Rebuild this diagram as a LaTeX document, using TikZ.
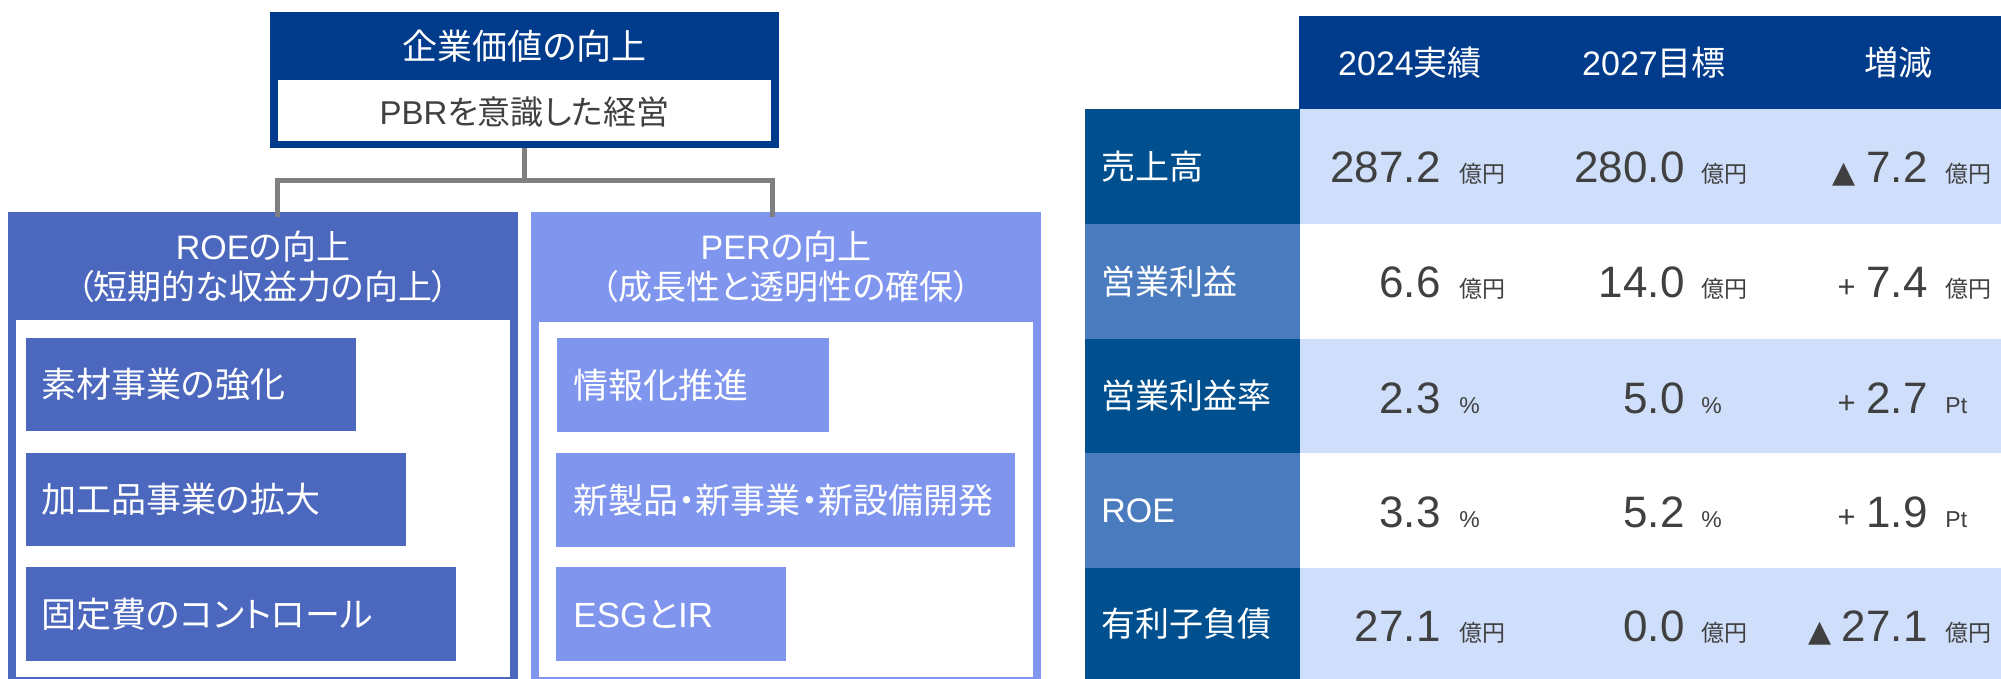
\documentclass[tikz,border=0pt]{standalone}
\usepackage{fontspec}
\setmainfont{Liberation Sans}
\newfontfamily\jp[RawFeature=+palt]{Noto Sans CJK JP}
\newfontfamily\dvs{DejaVu Sans}
\usetikzlibrary{fit}
\definecolor{navy}{HTML}{003B8C}
\definecolor{roeblue}{HTML}{4B67BE}
\definecolor{perblue}{HTML}{7F95EE}
\definecolor{rowdark}{HTML}{00508F}
\definecolor{rowlight}{HTML}{4A7BBE}
\definecolor{cellblue}{HTML}{CFDFFB}
\definecolor{txtgray}{HTML}{404040}
\definecolor{conngray}{HTML}{808080}
\begin{document}
\begin{tikzpicture}[x=0.5pt,y=-0.5pt,
  box/.style={inner sep=0pt, outer sep=0pt, draw=none},
  conn/.style={draw=conngray, line width=2.5pt},
  wt/.style={text=white, inner sep=0pt, font=\fontsize{17.5}{20}\selectfont},
  lt/.style={text=white, inner sep=0pt, font=\fontsize{17}{20}\selectfont},
  hdt/.style={text=white, inner sep=0pt, font=\fontsize{17}{20}\selectfont, align=center},
  gt/.style={text=txtgray, inner sep=0pt, font=\fontsize{16.5}{19}\selectfont},
  num/.style={text=txtgray, inner sep=0pt, font=\fontsize{22}{26}\selectfont},
  unit/.style={text=txtgray, inner sep=0pt, font=\fontsize{11.5}{14}\selectfont},
  sgn/.style={text=txtgray, inner sep=0pt, font=\fontsize{15.5}{18}\selectfont},
  tri/.style={text=txtgray, inner sep=0pt, font=\dvs\fontsize{15}{18}\selectfont}]
\useasboundingbox (0,0) rectangle (2001,679);

% ---------- top box ----------
\node[box, fill=navy, fit={(270,12)(779,148)}] (top) {};
\node[box, fill=white, fit={(278,80)(771,141)}] (topin) {};
\node[wt] (toptitle) at (524.5,46) {\jp 企業価値の向上};
\node[gt] (pbr) at (524.5,112) {PBR{\jp を意識した経営}};

% ---------- ROE box ----------
\node[box, fill=roeblue, fit={(8,212)(518,679)}] (roe) {};
\node[box, fill=white, fit={(16,320)(510,677)}] (roein) {};
\node[hdt] (roet) at (263,267) {ROE{\jp の向上}\\{\jp （短期的な収益力の向上）}};
\node[box, fill=roeblue, fit={(26,338)(356,431)}] (r1) {};
\node[box, fill=roeblue, fit={(26,453)(406,546)}] (r2) {};
\node[box, fill=roeblue, fit={(26,567)(456,661)}] (r3) {};
\node[wt, anchor=west] (r1t) at (41,384.5) {\jp 素材事業の強化};
\node[wt, anchor=west] (r2t) at (41,499.5) {\jp 加工品事業の拡大};
\node[wt, anchor=west] (r3t) at (41,614) {\jp 固定費のコントロール};

% ---------- PER box ----------
\node[box, fill=perblue, fit={(531,212)(1041,679)}] (per) {};
\node[box, fill=white, fit={(539,322)(1033,677)}] (perin) {};
\node[hdt] (pert) at (786,267) {PER{\jp の向上}\\{\jp （成長性と透明性の確保）}};
\node[box, fill=perblue, fit={(557,338)(829,432)}] (p1) {};
\node[box, fill=perblue, fit={(556,453)(1015,547)}] (p2) {};
\node[box, fill=perblue, fit={(556,567)(786,661)}] (p3) {};
\node[wt, anchor=west] (p1t) at (573,385) {\jp 情報化推進};
\node[wt, anchor=west] (p2t) at (573,500) {\jp 新製品・新事業・新設備開発};
\node[wt, anchor=west] (p3t) at (573,614) {ESG{\jp と}IR};

% ---------- connectors ----------
\coordinate (jl) at (277.5,180.5);
\coordinate (jr) at (772,180.5);
\draw[conn] (top.south) |- (jl) -- (jl |- roe.north) -- ++(0,5);
\draw[conn] (top.south) |- (jr) -- (jr |- per.north) -- ++(0,5);

% ---------- table ----------
\node[box, fill=navy, fit={(1299,16)(2001,109)}] (head) {};
\node[lt] (h1) at (1410,63) {2024{\jp 実績}};
\node[lt] (h2) at (1654,63) {2027{\jp 目標}};
\node[lt] (h3) at (1898,63) {\jp 増減};

\foreach \i/\ytop/\ybot/\lfill/\dfill in {1/109/224/rowdark/cellblue, 2/224/339/rowlight/white, 3/339/453/rowdark/cellblue, 4/453/568/rowlight/white, 5/568/679/rowdark/cellblue} {
  \node[box, fill=\lfill, fit={(1085,\ytop)(1300,\ybot)}] (lab\i) {};
  \node[box, fill=\dfill, fit={(1300,\ytop)(2001,\ybot)}] (row\i) {};
}

\node[lt, anchor=west] (l1) at (1101,167) {\jp 売上高};
\node[lt, anchor=west] (l2) at (1101,281.5) {\jp 営業利益};
\node[lt, anchor=west] (l3) at (1101,396) {\jp 営業利益率};
\node[lt, anchor=west] (l4) at (1101,510.5) {ROE};
\node[lt, anchor=west] (l5) at (1101,624) {\jp 有利子負債};

% row 1
\node[num, anchor=base east] (a1) at (1441,183) {287.2};
\node[unit, anchor=base west] (au1) at (1459,183) {\jp 億円};
\node[num, anchor=base east] (b1) at (1685,183) {280.0};
\node[unit, anchor=base west] (bu1) at (1701,183) {\jp 億円};
\node[num, anchor=base east] (c1) at (1928,183) {7.2};
\node[tri, anchor=base east] (cs1) at ([xshift=-5pt]c1.base west) {▲};
\node[unit, anchor=base west] (cu1) at (1945,183) {\jp 億円};
% row 2
\node[num, anchor=base east] (a2) at (1441,298) {6.6};
\node[unit, anchor=base west] (au2) at (1459,298) {\jp 億円};
\node[num, anchor=base east] (b2) at (1685,298) {14.0};
\node[unit, anchor=base west] (bu2) at (1701,298) {\jp 億円};
\node[num, anchor=base east] (c2) at (1928,298) {7.4};
\node[sgn, anchor=base east] (cs2) at ([xshift=-5pt]c2.base west) {+};
\node[unit, anchor=base west] (cu2) at (1945,298) {\jp 億円};
% row 3
\node[num, anchor=base east] (a3) at (1441,413) {2.3};
\node[unit, anchor=base west] (au3) at (1459,413) {\%};
\node[num, anchor=base east] (b3) at (1685,413) {5.0};
\node[unit, anchor=base west] (bu3) at (1701,413) {\%};
\node[num, anchor=base east] (c3) at (1928,413) {2.7};
\node[sgn, anchor=base east] (cs3) at ([xshift=-5pt]c3.base west) {+};
\node[unit, anchor=base west] (cu3) at (1945,413) {Pt};
% row 4
\node[num, anchor=base east] (a4) at (1441,527) {3.3};
\node[unit, anchor=base west] (au4) at (1459,527) {\%};
\node[num, anchor=base east] (b4) at (1685,527) {5.2};
\node[unit, anchor=base west] (bu4) at (1701,527) {\%};
\node[num, anchor=base east] (c4) at (1928,527) {1.9};
\node[sgn, anchor=base east] (cs4) at ([xshift=-5pt]c4.base west) {+};
\node[unit, anchor=base west] (cu4) at (1945,527) {Pt};
% row 5
\node[num, anchor=base east] (a5) at (1441,641) {27.1};
\node[unit, anchor=base west] (au5) at (1459,641) {\jp 億円};
\node[num, anchor=base east] (b5) at (1685,641) {0.0};
\node[unit, anchor=base west] (bu5) at (1701,641) {\jp 億円};
\node[num, anchor=base east] (c5) at (1928,641) {27.1};
\node[tri, anchor=base east] (cs5) at ([xshift=-5pt]c5.base west) {▲};
\node[unit, anchor=base west] (cu5) at (1945,641) {\jp 億円};
\end{tikzpicture}
\end{document}
